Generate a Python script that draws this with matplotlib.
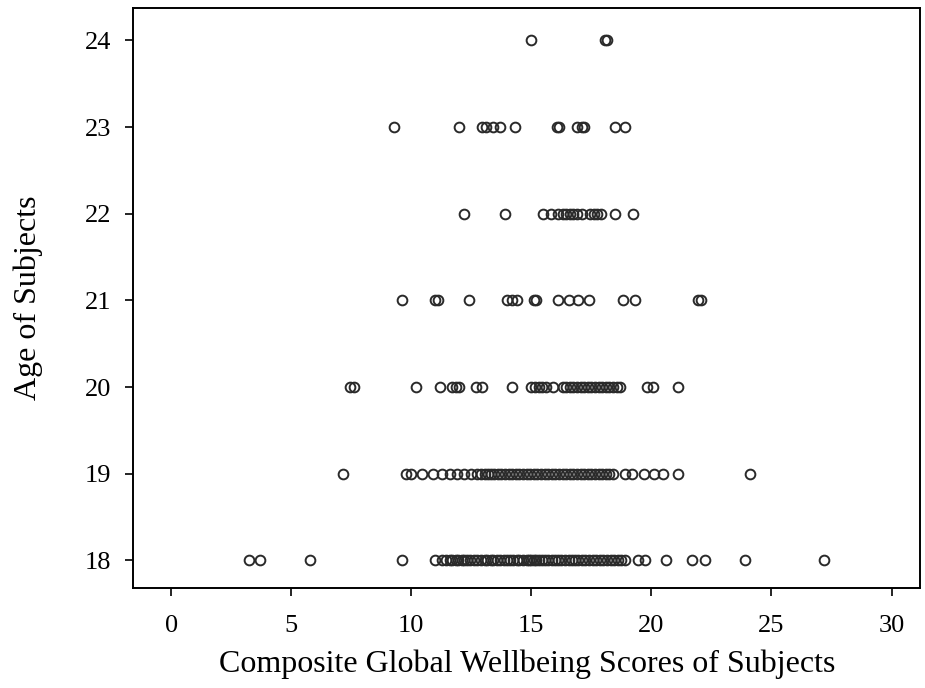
import matplotlib.pyplot as plt

# Wellbeing scores, one list per age
scores_18 = [3.25, 3.7, 5.8, 9.6, 11.0, 11.3, 11.45, 11.6, 11.7, 11.85, 11.95,
             12.1, 12.2, 12.3, 12.45, 12.6, 12.75, 12.9, 13.05, 13.15, 13.3,
             13.4, 13.55, 13.7, 13.85, 14.0, 14.1, 14.25, 14.4, 14.5, 14.65,
             14.8, 14.9, 15.0, 15.1, 15.2, 15.3, 15.45, 15.55, 15.7, 15.85,
             16.0, 16.1, 16.25, 16.4, 16.55, 16.7, 16.8, 16.95, 17.1, 17.25,
             17.4, 17.55, 17.7, 17.85, 18.0, 18.15, 18.3, 18.45, 18.6, 18.75,
             18.9, 19.45, 19.75, 20.6, 21.7, 22.25, 23.9, 27.2]
scores_19 = [7.15, 9.8, 10.0, 10.45, 10.9, 11.3, 11.6, 11.9, 12.2, 12.5, 12.75,
             12.9, 13.05, 13.2, 13.3, 13.45, 13.6, 13.75, 13.9, 14.05, 14.2,
             14.35, 14.5, 14.65, 14.8, 14.95, 15.1, 15.25, 15.4, 15.55, 15.7,
             15.85, 16.0, 16.15, 16.3, 16.45, 16.6, 16.75, 16.9, 17.05, 17.2,
             17.35, 17.5, 17.65, 17.8, 17.95, 18.1, 18.25, 18.4, 18.9, 19.2,
             19.7, 20.1, 20.5, 21.1, 24.1]
scores_20 = [7.45, 7.6, 10.2, 11.2, 11.7, 11.85, 12.0, 12.7, 12.95, 14.2, 15.0,
             15.15, 15.3, 15.45, 15.6, 15.9, 16.3, 16.45, 16.6, 16.75, 16.9,
             17.05, 17.2, 17.35, 17.5, 17.65, 17.8, 17.95, 18.1, 18.25, 18.4,
             18.55, 18.7, 19.8, 20.05, 21.1]
scores_21 = [9.6, 11.0, 11.1, 12.4, 14.0, 14.2, 14.4, 15.1, 15.2, 16.1, 16.55,
             16.95, 17.4, 18.8, 19.3, 21.95, 22.05]
scores_22 = [12.2, 13.9, 15.5, 15.8, 16.1, 16.3, 16.45, 16.6, 16.75, 16.9, 17.1,
             17.45, 17.6, 17.75, 17.9, 18.5, 19.25]
scores_23 = [9.3, 12.0, 12.95, 13.1, 13.4, 13.7, 14.3, 16.05, 16.15, 16.9, 17.1,
             17.2, 18.5, 18.9]
scores_24 = [15.0, 18.05, 18.15]

ages = [18, 19, 20, 21, 22, 23, 24]
groups = [scores_18, scores_19, scores_20, scores_21, scores_22, scores_23, scores_24]

plt.rcParams['font.family'] = ['Liberation Serif', 'DejaVu Serif']

fig = plt.figure(figsize=(9.25, 6.88), dpi=100)
ax = fig.add_axes([0.144, 0.145, 0.851, 0.843])

for age, vals in zip(ages, groups):
    ax.plot(vals, [age] * len(vals), 'o', mfc='none', mec='#2a2a2a',
            ms=7, mew=1.4, linestyle='none')

ax.set_xlim(-1.58, 31.2)
ax.set_ylim(17.68, 24.37)
ax.set_xticks([0, 5, 10, 15, 20, 25, 30])
ax.set_yticks(ages)

ax.tick_params(direction='out', length=6, width=1.2, labelsize=19)
ax.tick_params(axis='x', pad=13)
ax.tick_params(axis='y', pad=10)
for side in ['left', 'bottom', 'top', 'right']:
    ax.spines[side].set_linewidth(1.4)

ax.set_xlabel('Composite Global Wellbeing Scores of Subjects', fontsize=23, labelpad=9)
ax.set_ylabel('Age of Subjects', fontsize=23, labelpad=30)

fig.savefig('out.png', dpi=100)
